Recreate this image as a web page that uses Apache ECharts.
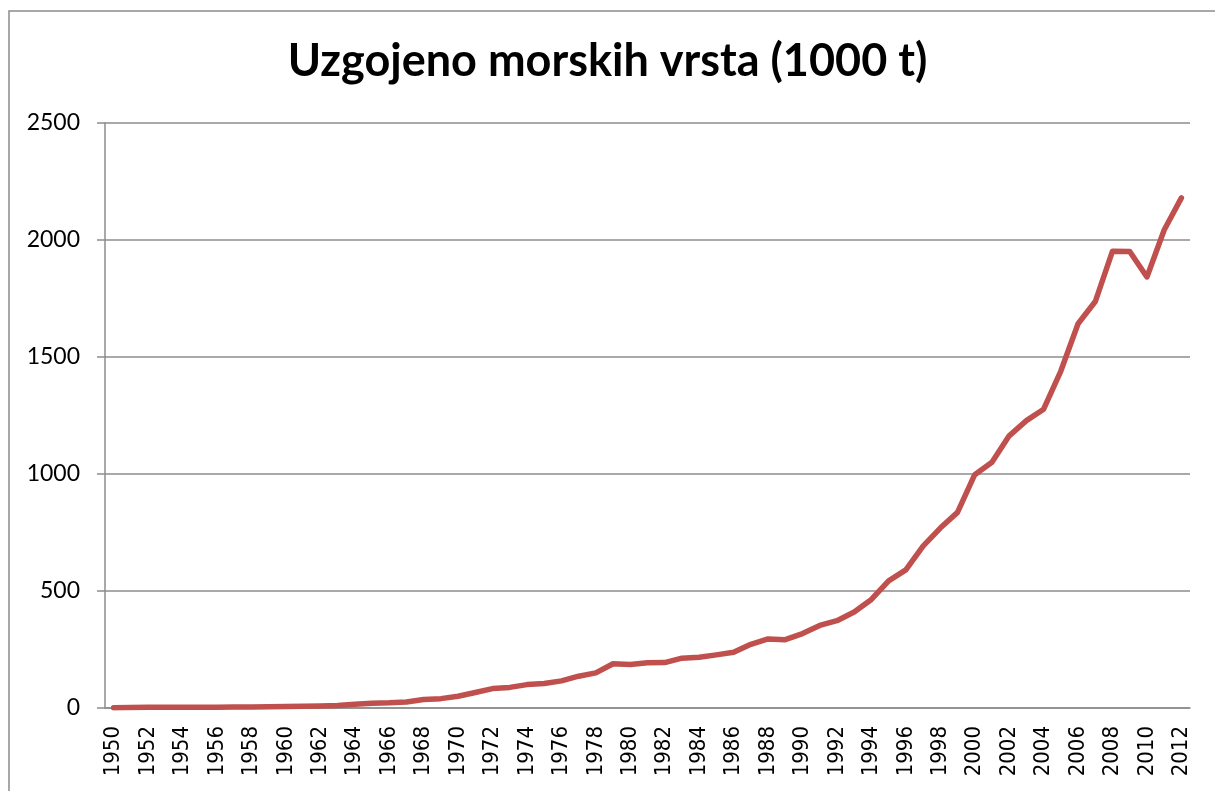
<!DOCTYPE html>
<html>
<head>
<meta charset="utf-8">
<title>Uzgojeno morskih vrsta</title>
<script src="https://cdn.jsdelivr.net/npm/echarts@6/dist/echarts.min.js"></script>
<style>
    html, body { margin: 0; padding: 0; background: #fff; }
    #chart { width: 1215px; height: 791px; }
</style>
</head>
<body>
<div id="chart"></div>
<script>
// godine (kategorije)
const years = [
    "1950", "1951", "1952", "1953", "1954", "1955", "1956", "1957", "1958", "1959",
    "1960", "1961", "1962", "1963", "1964", "1965", "1966", "1967", "1968", "1969",
    "1970", "1971", "1972", "1973", "1974", "1975", "1976", "1977", "1978", "1979",
    "1980", "1981", "1982", "1983", "1984", "1985", "1986", "1987", "1988", "1989",
    "1990", "1991", "1992", "1993", "1994", "1995", "1996", "1997", "1998", "1999",
    "2000", "2001", "2002", "2003", "2004", "2005", "2006", "2007", "2008", "2009",
    "2010", "2011", "2012"
];
// uzgojeno, 1000 t (procjena s grafa)
const farmed = [
    1, 2, 3, 3, 3, 3, 3, 4, 4, 5,
    6, 8, 9, 11, 16, 20, 22, 26, 36, 40,
    50, 66, 83, 88, 100, 105, 116, 136, 150, 189,
    186, 193, 194, 213, 217, 227, 238, 272, 295, 292,
    318, 353, 373, 410, 464, 543, 590, 692, 769, 836,
    997, 1050, 1163, 1228, 1277, 1440, 1642, 1737, 1952, 1951,
    1842, 2043, 2180
];
const yTicks = [0, 500, 1000, 1500, 2000, 2500];

const axisGray = "#8c8c8c";
const chart = echarts.init(document.getElementById("chart"));
chart.setOption({
    animation: false,
    backgroundColor: "#fff",
    title: {
        text: "Uzgojeno morskih vrsta (1000 t)",
        left: "center",
        top: 34,
        textStyle: {
            fontFamily: "Lato",
            fontWeight: "bold",
            fontSize: 45,
            color: "#000",
        },
    },
    graphic: [
        {
            type: "rect",
            shape: { x: 9, y: 11, width: 1230, height: 800 },
            style: { fill: "none", stroke: axisGray, lineWidth: 1.5 },
            silent: true,
        },
    ],
    grid: {
        left: 105,
        right: 25,
        top: 123,
        bottom: 83,
        containLabel: false,
        outerBoundsMode: "none",
    },
    xAxis: {
        type: "category",
        data: years,
        boundaryGap: true,
        axisLine: { lineStyle: { color: axisGray, width: 1.5 } },
        axisTick: {
            interval: 0,
            length: 7,
            lineStyle: { color: axisGray, width: 1.5 },
        },
        axisLabel: {
            interval: 1,
            rotate: 90,
            margin: 18,
            hideOverlap: false,
            fontFamily: "'DejaVu Sans Condensed', 'DejaVu Sans'",
            fontSize: 22,
            color: "#000",
            formatter: "{y|{value}}",
            rich: {
                y: {
                    fontFamily: "'DejaVu Sans Condensed', 'DejaVu Sans'",
                    fontSize: 22,
                    color: "#000",
                },
            },
        },
        splitLine: { show: false },
    },
    yAxis: {
        type: "value",
        min: yTicks[0],
        max: yTicks[yTicks.length - 1],
        interval: 500,
        axisLine: { show: true, lineStyle: { color: axisGray, width: 1.5 } },
        axisTick: { show: true, length: 8, lineStyle: { color: axisGray, width: 1.5 } },
        axisLabel: {
            margin: 25,
            fontFamily: "Lato",
            fontSize: 23,
            color: "#000",
            formatter: (v) => String(v),
        },
        splitLine: { lineStyle: { color: axisGray, width: 1.5 } },
    },
    series: [
        {
            type: "line",
            data: farmed,
            symbol: "none",
            lineStyle: { color: "#c0504d", width: 5.5, cap: "round", join: "round" },
            itemStyle: { color: "#c0504d" },
        },
    ],
});
</script>
</body>
</html>
